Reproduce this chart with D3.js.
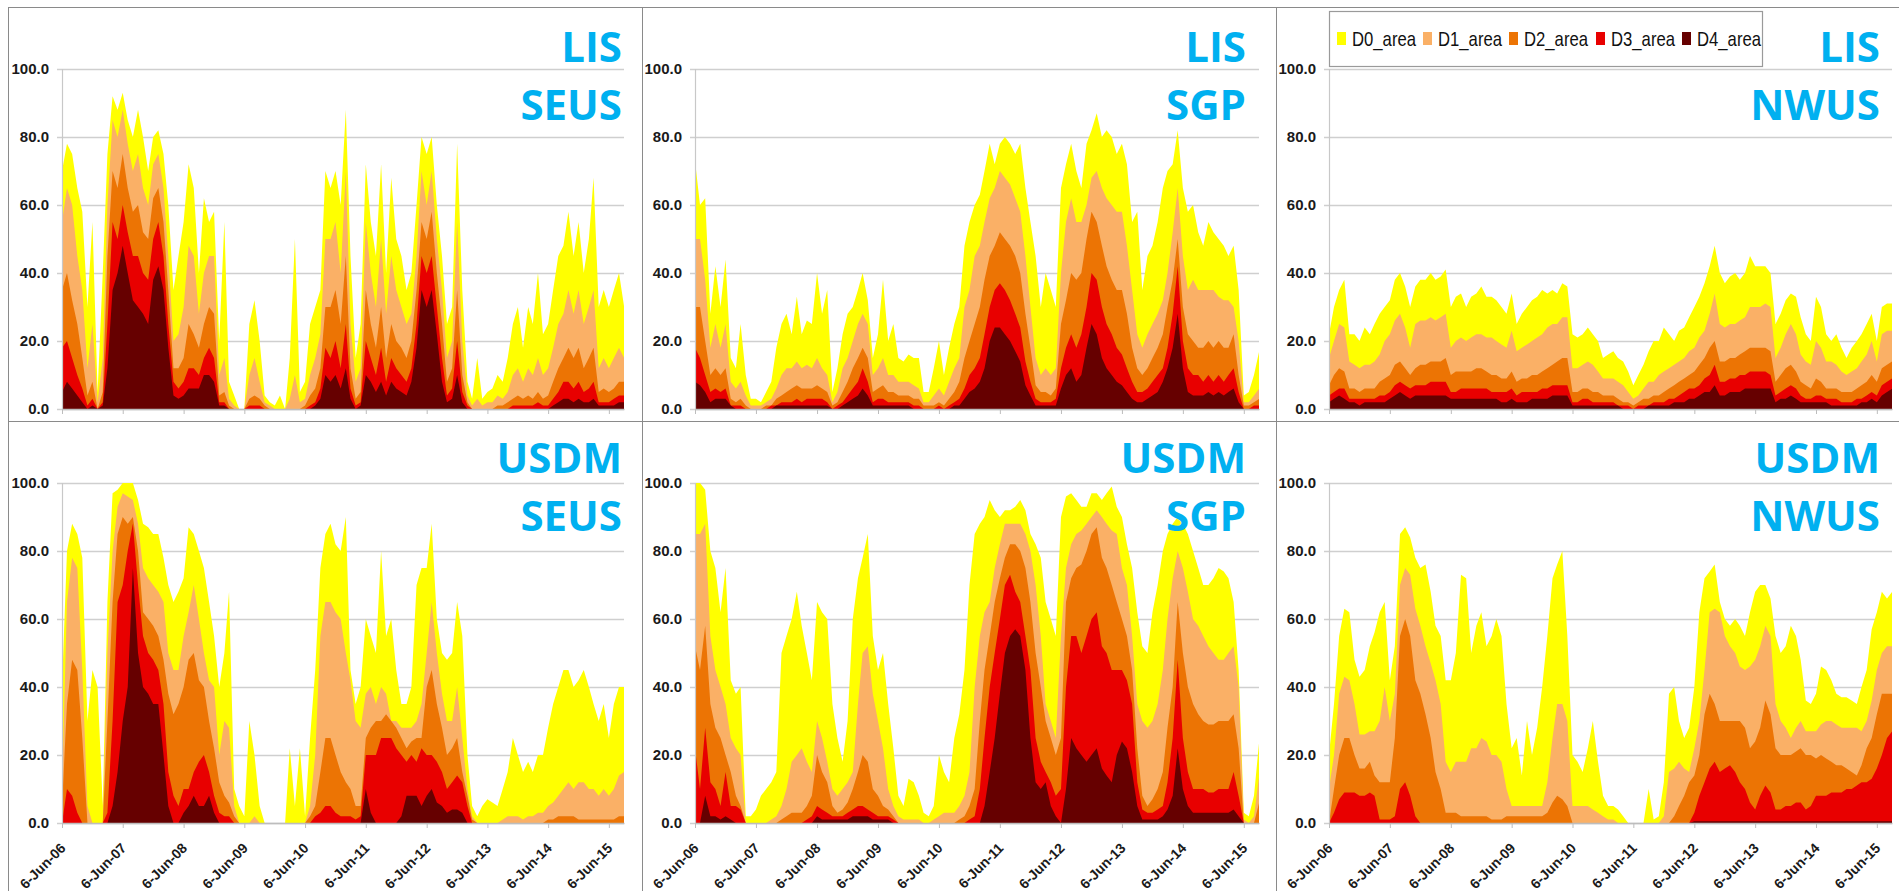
<!DOCTYPE html>
<html>
<head>
<meta charset="utf-8">
<script src="https://cdn.jsdelivr.net/npm/d3@7"></script>
<style>
  body { margin: 0; background: #ffffff; }
  svg { display: block; }
</style>
</head>
<body>
<svg id="chart" width="1899" height="891"></svg>
<script>
// ---- data -------------------------------------------------------------
// Percent of region area in each drought category (cumulative, D0 >= D1 >= ... >= D4),
// one row per month from June 2006: [D0, D1, D2, D3, D4]
const levels = ["D0_area", "D1_area", "D2_area", "D3_area", "D4_area"];
const yTicks = [0, 20, 40, 60, 80, 100];
const xTickLabels = ["6-Jun-06", "6-Jun-07", "6-Jun-08", "6-Jun-09", "6-Jun-10",
                     "6-Jun-11", "6-Jun-12", "6-Jun-13", "6-Jun-14", "6-Jun-15"];
const firstDay = "2006-06-06";
const lastDay = "2015-09-05";

const lisSeus = [
  [70,55,35,18,5],[78,65,40,20,8],[75,60,32,15,6],[65,45,25,10,4],[58,35,15,6,2],[30,12,4,1,0],
  [55,25,8,3,1],[5,2,0,0,0],[40,15,5,2,1],[75,60,45,25,12],[92,85,70,55,35],[88,80,65,50,40],
  [93,88,75,60,48],[85,78,65,52,40],[80,70,58,45,32],[88,75,60,45,30],[80,65,52,40,28],[70,60,50,38,25],
  [80,72,62,50,38],[82,75,65,55,42],[75,65,55,45,35],[60,45,35,25,18],[35,20,12,8,4],[45,22,12,6,3],
  [55,30,15,8,4],[72,48,25,12,6],[65,45,22,12,6],[40,28,18,10,6],[62,40,25,15,10],[55,45,30,18,10],
  [58,45,28,15,8],[20,10,4,2,1],[55,15,5,2,1],[8,3,1,0,0],[4,1,0,0,0],[0,0,0,0,0],
  [0,0,0,0,0],[25,10,3,1,0],[32,15,4,1,0],[20,8,3,1,0],[4,2,1,0,0],[2,1,0,0,0],
  [1,0,0,0,0],[4,0,0,0,0],[0,0,0,0,0],[15,3,0,0,0],[50,10,0,0,0],[5,2,0,0,0],
  [8,3,1,0,0],[25,10,4,1,0],[30,15,6,2,1],[35,22,12,6,3],[70,50,30,18,10],[65,50,30,15,8],
  [70,55,35,20,10],[60,40,25,12,6],[88,70,45,25,12],[45,25,12,6,3],[15,8,3,1,0],[25,12,5,2,1],
  [72,55,35,20,10],[55,40,25,15,8],[45,30,18,10,5],[72,50,30,18,8],[40,28,15,8,4],[68,45,25,15,8],
  [50,35,20,12,6],[45,30,18,10,5],[35,25,15,8,4],[40,28,20,12,8],[60,45,35,25,18],[80,70,55,45,35],
  [75,60,50,40,30],[80,70,58,45,35],[60,50,40,30,22],[45,35,25,15,8],[25,15,8,4,2],[30,20,12,6,3],
  [78,55,35,20,10],[35,20,10,5,2],[8,4,2,1,0],[3,1,0,0,0],[15,3,0,0,0],[3,1,0,0,0],
  [5,2,0,0,0],[6,2,0,0,0],[10,4,1,0,0],[8,3,1,0,0],[15,5,2,0,0],[25,10,3,1,0],
  [30,12,4,1,0],[18,8,3,1,0],[30,12,4,1,0],[25,10,3,1,0],[40,15,5,2,0],[22,10,3,1,0],
  [25,12,4,1,0],[35,18,8,3,1],[45,25,12,5,2],[48,28,15,8,3],[58,35,18,8,3],[45,28,15,6,2],
  [55,35,18,8,3],[40,25,12,5,2],[50,30,15,6,2],[68,35,18,8,3],[30,12,5,2,1],[35,15,6,2,1],
  [30,12,5,2,1],[35,15,6,3,1],[40,18,8,4,2],[30,15,8,4,2]
];

const lisSgp = [
  [73,50,30,18,8],[60,50,30,15,7],[62,38,20,10,5],[28,18,10,5,2],[42,25,12,6,3],[30,18,10,5,3],
  [44,25,12,6,3],[15,8,3,1,1],[12,6,2,1,0],[25,8,3,1,0],[10,4,1,0,0],[3,1,0,0,0],
  [3,1,0,0,0],[2,1,0,0,0],[5,2,1,0,0],[8,3,1,1,0],[18,6,3,1,1],[25,10,4,2,1],
  [28,12,5,2,1],[22,12,6,2,1],[33,14,7,3,1],[22,12,6,2,1],[26,13,6,3,1],[25,12,6,3,1],
  [40,15,7,3,1],[28,12,6,3,1],[35,10,5,2,1],[5,2,1,0,0],[12,5,2,1,0],[22,12,5,2,1],
  [28,15,8,4,2],[30,20,12,6,3],[35,25,15,8,4],[40,28,18,12,6],[32,25,15,8,4],[15,10,5,2,1],
  [22,12,6,3,1],[38,15,7,3,1],[20,10,5,2,1],[25,10,5,2,1],[15,8,4,2,1],[14,8,4,2,1],
  [16,8,4,2,1],[15,7,3,1,0],[15,6,3,1,0],[5,2,1,0,0],[5,2,1,0,0],[12,4,1,0,0],
  [20,6,2,1,0],[10,4,1,0,0],[18,8,3,1,0],[25,12,5,2,1],[30,15,8,3,1],[48,30,15,6,3],
  [55,35,20,10,5],[60,45,25,12,6],[63,48,30,15,8],[70,55,38,22,12],[78,62,45,30,20],[72,65,48,35,24],
  [78,70,52,37,24],[80,68,50,35,22],[78,66,48,32,20],[75,62,45,28,17],[78,58,40,24,14],[65,45,28,14,7],
  [55,30,18,8,4],[45,15,7,3,1],[30,10,5,2,1],[40,12,5,2,1],[35,10,4,2,1],[30,12,6,3,1],
  [65,40,25,12,6],[72,55,32,18,10],[78,62,40,22,12],[70,55,38,18,8],[65,55,40,22,10],[78,60,50,30,18],
  [82,68,58,40,25],[87,70,55,38,22],[80,65,48,30,15],[82,62,42,25,12],[80,60,38,22,10],[75,58,35,18,8],
  [78,58,35,16,7],[72,48,28,12,5],[55,35,18,8,3],[58,22,12,5,2],[35,18,10,5,2],[45,22,12,6,3],
  [48,25,15,8,4],[55,28,18,10,5],[65,32,22,12,8],[70,40,30,18,12],[72,52,38,28,18],[82,65,50,42,28],
  [65,45,30,20,12],[58,35,22,12,5],[60,38,20,10,4],[52,35,18,10,4],[48,35,18,8,4],[55,35,20,10,5],
  [52,35,18,8,4],[50,33,20,10,5],[48,32,18,8,4],[45,32,18,10,5],[48,30,22,12,6],[35,20,10,5,2],
  [4,2,1,0,0],[5,2,1,0,0],[10,4,2,1,0],[17,6,3,1,0]
];

const lisNwus = [
  [22,15,7,4,2],[30,20,10,5,3],[35,25,12,6,4],[38,24,11,6,3],[22,14,6,3,2],[22,13,6,3,2],
  [20,12,5,3,1],[24,13,6,3,2],[22,13,6,3,2],[25,14,6,3,2],[28,16,8,4,2],[30,20,9,4,2],
  [32,22,10,5,3],[38,26,13,7,4],[40,28,14,8,5],[36,24,12,7,4],[30,18,10,6,3],[36,25,12,7,4],
  [38,26,13,7,4],[38,26,13,7,4],[40,27,14,8,4],[38,26,14,8,4],[39,27,14,8,4],[41,28,15,8,4],
  [30,18,10,5,3],[33,20,11,5,3],[34,21,11,6,3],[30,20,11,6,3],[33,21,11,6,3],[34,22,12,6,3],
  [36,22,12,6,3],[33,21,11,6,3],[33,21,10,5,3],[32,20,10,5,3],[30,19,9,5,2],[28,18,9,5,2],
  [34,23,11,6,3],[25,17,8,4,2],[28,18,9,5,2],[30,19,9,5,2],[32,20,10,5,3],[33,21,10,5,3],
  [35,22,11,6,3],[34,24,12,6,3],[35,25,13,7,4],[34,25,14,7,4],[37,27,15,7,4],[36,27,15,7,4],
  [22,12,5,2,1],[21,12,5,2,1],[22,13,6,3,1],[24,14,6,3,1],[22,13,5,2,1],[20,11,5,2,1],
  [15,9,4,2,1],[16,9,4,2,1],[17,9,4,2,1],[15,8,3,1,1],[14,7,2,1,0],[11,5,2,1,0],
  [7,3,1,0,0],[10,4,2,1,0],[13,6,3,1,0],[17,8,3,1,1],[20,8,4,2,1],[20,10,4,2,1],
  [24,11,5,2,1],[22,12,6,3,1],[20,13,7,3,2],[23,14,8,4,2],[24,15,9,5,2],[27,17,10,6,3],
  [30,18,11,6,3],[33,21,13,7,4],[37,23,15,9,5],[42,28,18,10,5],[48,34,20,13,7],[40,25,14,8,4],
  [37,24,14,8,4],[39,25,15,9,5],[40,25,15,9,5],[38,26,16,10,5],[40,27,17,10,6],[45,30,18,11,6],
  [42,30,18,11,6],[42,30,18,11,6],[42,31,18,11,6],[40,30,17,10,6],[25,15,8,4,2],[28,18,10,5,3],
  [32,22,12,6,3],[34,25,13,7,4],[33,22,11,6,3],[27,16,8,4,2],[22,14,7,3,2],[20,13,6,3,2],
  [33,20,9,4,2],[30,18,8,4,2],[22,14,6,3,2],[20,14,6,3,1],[22,13,6,3,1],[18,11,5,2,1],
  [15,10,5,2,1],[18,11,5,2,1],[20,12,6,3,1],[22,14,7,3,2],[25,16,8,4,2],[28,20,10,5,3],
  [20,14,8,4,2],[30,22,12,7,4],[31,23,13,8,5],[31,23,14,9,6]
];

const usdmSeus = [
  [40,10,5,0,0],[80,65,35,10,0],[88,78,48,8,0],[85,75,45,3,0],[78,45,25,0,0],[30,5,0,0,0],
  [45,0,0,0,0],[40,0,0,0,0],[5,0,0,0,0],[65,50,30,3,0],[97,80,65,30,5],[98,93,85,65,15],
  [100,97,90,70,30],[100,96,88,80,40],[100,95,90,88,75],[95,88,80,70,50],[88,75,62,55,40],[87,72,60,50,38],
  [85,70,58,48,35],[85,68,55,45,35],[78,65,48,35,20],[70,50,38,15,5],[65,45,32,8,0],[68,45,35,5,0],
  [72,55,40,10,3],[87,62,48,10,5],[85,70,50,15,8],[80,60,42,18,5],[75,50,40,20,5],[65,42,30,15,8],
  [55,40,22,8,3],[40,20,12,3,0],[50,30,8,2,0],[68,28,6,2,0],[10,5,2,0,0],[5,0,0,0,0],
  [2,0,0,0,0],[30,0,0,0,0],[20,2,0,0,0],[5,0,0,0,0],[0,0,0,0,0],[0,0,0,0,0],
  [0,0,0,0,0],[0,0,0,0,0],[0,0,0,0,0],[22,0,0,0,0],[5,0,0,0,0],[22,0,0,0,0],
  [2,0,0,0,0],[25,5,2,0,0],[45,20,5,2,0],[75,55,15,3,0],[85,65,25,5,0],[88,65,25,5,0],
  [82,62,20,3,0],[80,60,15,2,0],[90,50,12,2,0],[45,42,10,2,0],[35,30,5,1,0],[40,28,5,2,0],
  [60,38,25,20,10],[55,40,28,20,3],[50,35,30,20,0],[80,40,30,25,0],[55,38,32,25,0],[60,30,30,25,0],
  [45,30,28,22,0],[35,28,25,20,2],[35,28,22,18,8],[40,28,24,20,8],[70,30,25,18,8],[75,35,25,22,5],
  [75,50,40,20,8],[88,65,45,20,10],[60,50,35,18,6],[50,38,28,15,5],[48,30,20,10,3],[50,30,22,12,4],
  [65,40,25,14,4],[55,25,15,12,3],[20,10,8,5,0],[5,2,1,0,0],[2,0,0,0,0],[5,0,0,0,0],
  [7,0,0,0,0],[6,0,0,0,0],[5,0,0,0,0],[10,1,0,0,0],[15,2,0,0,0],[25,2,0,0,0],
  [20,2,0,0,0],[15,1,0,0,0],[18,2,0,0,0],[15,2,0,0,0],[20,3,0,0,0],[20,3,0,0,0],
  [28,5,1,0,0],[35,6,1,0,0],[40,8,2,0,0],[45,10,2,0,0],[45,12,2,0,0],[40,10,2,0,0],
  [42,12,1,0,0],[45,12,1,0,0],[40,10,1,0,0],[35,10,1,0,0],[30,8,1,0,0],[35,10,1,0,0],
  [25,8,1,0,0],[35,10,1,0,0],[40,14,2,0,0],[40,15,2,0,0]
];

const usdmSgp = [
  [100,85,52,22,0],[100,85,45,10,0],[98,88,58,28,8],[80,55,35,12,2],[75,45,28,10,2],[62,40,25,5,1],
  [75,35,20,15,2],[42,25,15,5,1],[38,22,8,5,0],[40,20,5,4,0],[2,0,0,0,0],[2,0,0,0,0],
  [4,0,0,0,0],[8,0,0,0,0],[10,0,0,0,0],[12,1,0,0,0],[15,2,0,0,0],[50,5,1,0,0],
  [55,10,2,0,0],[60,18,3,0,0],[68,20,3,0,0],[58,22,3,0,0],[50,18,5,1,0],[42,15,8,2,0],
  [65,30,20,5,2],[62,25,15,4,1],[60,18,12,3,1],[35,10,5,2,1],[25,8,3,2,1],[18,10,4,2,1],
  [30,12,6,3,1],[60,15,10,4,2],[72,35,15,5,2],[78,50,20,5,2],[85,52,18,4,2],[55,38,10,3,1],
  [45,30,8,2,1],[50,22,5,2,1],[35,10,4,2,1],[22,5,2,1,0],[8,2,0,0,0],[5,1,0,0,0],
  [13,1,0,0,0],[12,1,0,0,0],[8,1,0,0,0],[3,0,0,0,0],[2,0,0,0,0],[5,1,0,0,0],
  [20,2,0,0,0],[15,3,0,0,0],[12,3,0,0,0],[25,3,0,0,0],[32,5,1,0,0],[45,8,2,0,0],
  [70,15,5,1,0],[85,40,10,2,0],[88,55,30,10,0],[90,62,45,25,5],[95,65,55,40,15],[92,75,65,50,25],
  [90,82,72,60,38],[92,88,78,70,50],[92,88,82,73,55],[93,88,82,68,57],[95,88,80,65,55],[92,85,75,55,45],
  [85,80,65,45,25],[82,70,50,25,12],[78,55,40,18,10],[65,35,30,15,12],[60,30,25,12,5],[55,25,20,8,2],
  [90,55,25,10,0],[96,75,65,40,10],[97,82,72,55,25],[95,85,75,55,22],[93,86,76,50,20],[93,88,80,55,18],
  [97,90,85,60,20],[97,92,87,62,22],[95,90,78,52,16],[97,88,75,50,14],[99,86,70,45,12],[93,85,65,45,20],
  [90,75,60,45,24],[82,70,55,42,22],[75,55,45,35,15],[62,35,22,12,5],[52,30,8,4,1],[50,28,5,3,1],
  [62,30,7,3,1],[70,35,10,4,1],[80,45,15,5,2],[85,60,28,12,4],[88,72,40,25,8],[90,80,65,48,22],
  [88,75,50,25,10],[85,68,40,15,5],[80,60,35,10,3],[75,58,32,10,3],[70,55,30,10,3],[70,52,29,9,3],
  [72,50,29,9,3],[75,48,30,10,3],[74,48,30,10,3],[72,50,30,10,3],[65,52,32,15,4],[45,40,22,8,2],
  [3,1,0,0,0],[2,0,0,0,0],[8,2,0,0,0],[24,14,6,0,0]
];

const usdmNwus = [
  [20,10,0,0,0],[35,20,10,3,0],[55,38,20,7,0],[63,43,25,9,0],[62,42,25,9,0],[48,35,20,9,0],
  [43,26,16,8,0],[45,26,16,8,0],[52,27,18,9,0],[56,27,14,8,0],[62,30,12,1,0],[65,40,12,1,0],
  [42,30,12,1,0],[52,38,25,2,0],[85,70,55,10,0],[87,75,60,12,0],[84,73,55,8,0],[78,63,42,2,0],
  [75,58,38,0,0],[76,52,32,0,0],[68,47,25,0,0],[58,42,15,0,0],[55,35,10,0,0],[42,18,3,0,0],
  [42,15,3,0,0],[50,18,3,0,0],[73,18,2,0,0],[72,18,2,0,0],[50,22,2,0,0],[58,22,2,0,0],
  [62,25,2,0,0],[52,24,2,0,0],[55,20,1,0,0],[60,20,1,0,0],[55,18,1,0,0],[35,10,2,0,0],
  [22,5,2,0,0],[25,5,2,0,0],[14,5,2,0,0],[30,5,2,0,0],[20,5,2,0,0],[28,5,2,0,0],
  [40,5,2,0,0],[55,12,3,0,0],[72,25,6,0,0],[76,35,8,0,0],[80,35,7,0,0],[55,30,5,0,0],
  [20,5,0,0,0],[18,5,0,0,0],[15,5,0,0,0],[22,5,0,0,0],[30,4,0,0,0],[18,3,0,0,0],
  [8,2,0,0,0],[5,1,0,0,0],[5,1,0,0,0],[4,0,0,0,0],[2,0,0,0,0],[0,0,0,0,0],
  [0,0,0,0,0],[0,0,0,0,0],[0,0,0,0,0],[10,0,0,0,0],[1,0,0,0,0],[2,0,0,0,0],
  [12,2,0,0,0],[38,15,0,0,0],[40,16,2,0,0],[30,18,5,0,0],[25,16,8,0,0],[28,15,12,0,0],
  [40,22,14,3,0.5],[62,30,20,8,0.5],[72,45,32,12,0.5],[74,62,38,16,0.5],[76,63,35,18,0.5],[65,62,30,15,0.5],
  [60,55,30,16,0.5],[58,52,30,17,0.5],[60,50,30,15,0.5],[58,46,30,12,0.5],[55,45,28,10,0.5],[62,46,22,6,0.5],
  [68,48,24,4,0.5],[70,52,28,8,0.5],[70,58,36,11,0.5],[66,55,32,9,0.5],[55,35,22,4,0.5],[50,30,20,4,0.5],
  [52,28,20,5,0.5],[58,25,20,5,0.5],[55,28,21,6,0.5],[48,30,22,6,0.5],[36,27,20,4,0.5],[35,27,20,5,0.5],
  [38,27,19,8,0.5],[46,29,20,8,0.5],[45,30,19,8,0.5],[42,30,18,9,0.5],[38,29,17,9,0.5],[37,28,17,9,0.5],
  [37,28,16,10,0.5],[36,28,15,10,0.5],[35,28,14,11,0.5],[40,27,17,12,0.5],[45,30,22,12,0.5],[57,36,25,13,0.5],
  [62,45,32,16,0.5],[68,50,38,20,0.5],[66,52,38,25,0.5],[68,52,38,27,0.5]
];

const panels = [
  { source: "LIS",  region: "SEUS", rows: lisSeus },
  { source: "LIS",  region: "SGP",  rows: lisSgp },
  { source: "LIS",  region: "NWUS", rows: lisNwus },
  { source: "USDM", region: "SEUS", rows: usdmSeus },
  { source: "USDM", region: "SGP",  rows: usdmSgp },
  { source: "USDM", region: "NWUS", rows: usdmNwus }
];

// ---- layout & style ---------------------------------------------------
const levelColors = ["#FFFF00", "#FAB066", "#EC7404", "#E80000", "#660000"];
const colLeft = [62, 695, 1329];
const colRight = [624, 1259, 1892];
const titleRight = [622, 1246, 1880];
const rowTop = [69, 483];
const rowBottom = [409, 823];
const titleBase = [[62, 120], [473, 531]];
const tickFont = "'Liberation Sans Narrow','Arial Narrow','Liberation Sans',Arial,sans-serif";

const svg = d3.select("#chart");
const parseDay = d3.timeParse("%Y-%m-%d");
const parseTick = d3.timeParse("%d-%b-%y");
const start = parseDay(firstDay);
const end = parseDay(lastDay);
const tickDates = xTickLabels.map(parseTick);

// panel frames
const frameLines = [
  [8, 7.5, 1899, 7.5], [8, 421.5, 1899, 421.5],
  [8.5, 7, 8.5, 891], [642.5, 7, 642.5, 891], [1276.5, 7, 1276.5, 891]
];
svg.append("g").selectAll("line").data(frameLines).join("line")
  .attr("x1", d => d[0]).attr("y1", d => d[1]).attr("x2", d => d[2]).attr("y2", d => d[3])
  .attr("stroke", "#8A8A8A").attr("stroke-width", 1);

panels.forEach((p, i) => {
  const c = i % 3, r = Math.floor(i / 3);
  const x = d3.scaleTime().domain([start, end]).range([colLeft[c], colRight[c]]);
  const y = d3.scaleLinear().domain([0, 100]).range([rowBottom[r], rowTop[r]]);
  const dates = p.rows.map((_, k) => d3.timeMonth.offset(start, k));
  const g = svg.append("g");

  // horizontal gridlines + value labels
  const yAxis = g.append("g")
    .attr("transform", `translate(${colLeft[c] - 5},0)`)
    .call(d3.axisLeft(y).tickValues(yTicks).tickFormat(d3.format(".1f"))
      .tickSizeInner(-(colRight[c] - colLeft[c] + 5)).tickSizeOuter(0).tickPadding(8));
  yAxis.select(".domain").remove();
  yAxis.selectAll(".tick line").attr("stroke", "#CFCFCF").attr("stroke-width", 1.5);
  yAxis.selectAll(".tick text")
    .attr("fill", "#1A1A1A").style("font-family", tickFont)
    .style("font-size", "15px").style("font-weight", "700");

  // overlapping category areas, widest (D0) at the back
  const clipId = `clip${i}`;
  g.append("clipPath").attr("id", clipId).append("rect")
    .attr("x", colLeft[c]).attr("y", rowTop[r] - 5)
    .attr("width", colRight[c] - colLeft[c]).attr("height", rowBottom[r] - rowTop[r] + 5);
  const areas = g.append("g").attr("clip-path", `url(#${clipId})`);
  levels.forEach((lvl, L) => {
    const area = d3.area()
      .x((d, k) => x(dates[k]))
      .y0(y(0))
      .y1(d => y(d[L]));
    areas.append("path").datum(p.rows)
      .attr("d", area).attr("fill", levelColors[L]).attr("stroke", "none");
  });

  // vertical value axis line
  g.append("line")
    .attr("x1", colLeft[c] + 0.5).attr("x2", colLeft[c] + 0.5)
    .attr("y1", rowTop[r]).attr("y2", rowBottom[r])
    .attr("stroke", "#C8C8C8").attr("stroke-width", 1.2);

  // date axis
  const xAxis = g.append("g")
    .attr("transform", `translate(0,${rowBottom[r]})`)
    .call(d3.axisBottom(x).tickValues(tickDates)
      .tickFormat((d, k) => r === 1 ? xTickLabels[k] : "")
      .tickSizeInner(5).tickSizeOuter(0));
  xAxis.select(".domain").attr("stroke", "#BDBDBD").attr("stroke-width", 1.5);
  xAxis.selectAll(".tick line").attr("stroke", "#BDBDBD");
  xAxis.selectAll(".tick text")
    .attr("x", null).attr("y", null).attr("dy", null)
    .attr("text-anchor", "end")
    .attr("transform", "translate(4,26) rotate(-45)")
    .attr("fill", "#1A1A1A").style("font-family", tickFont)
    .style("font-size", "14px").style("font-weight", "700");

  // source / region titles
  [p.source, p.region].forEach((t, j) => {
    g.append("text")
      .attr("x", titleRight[c]).attr("y", titleBase[r][j])
      .attr("text-anchor", "end")
      .attr("fill", "#00B0F0")
      .style("font-family", "'Open Sans', 'Noto Sans', sans-serif")
      .style("font-weight", "bold").style("font-size", "42px")
      .text(t);
  });
});

// legend
const legend = svg.append("g");
legend.append("rect")
  .attr("x", 1329.5).attr("y", 11.5).attr("width", 433).attr("height", 55)
  .attr("fill", "#ffffff").attr("stroke", "#9A9A9A").attr("stroke-width", 1.2);
const legendX = [1337, 1423, 1509, 1596, 1682];
levels.forEach((lvl, L) => {
  legend.append("rect")
    .attr("x", legendX[L]).attr("y", 32).attr("width", 9).attr("height", 13)
    .attr("fill", levelColors[L]);
  legend.append("text")
    .attr("x", legendX[L] + 15).attr("y", 46)
    .attr("textLength", 64).attr("lengthAdjust", "spacingAndGlyphs")
    .attr("fill", "#111111")
    .style("font-family", tickFont).style("font-size", "21px")
    .text(lvl);
});
</script>
</body>
</html>
